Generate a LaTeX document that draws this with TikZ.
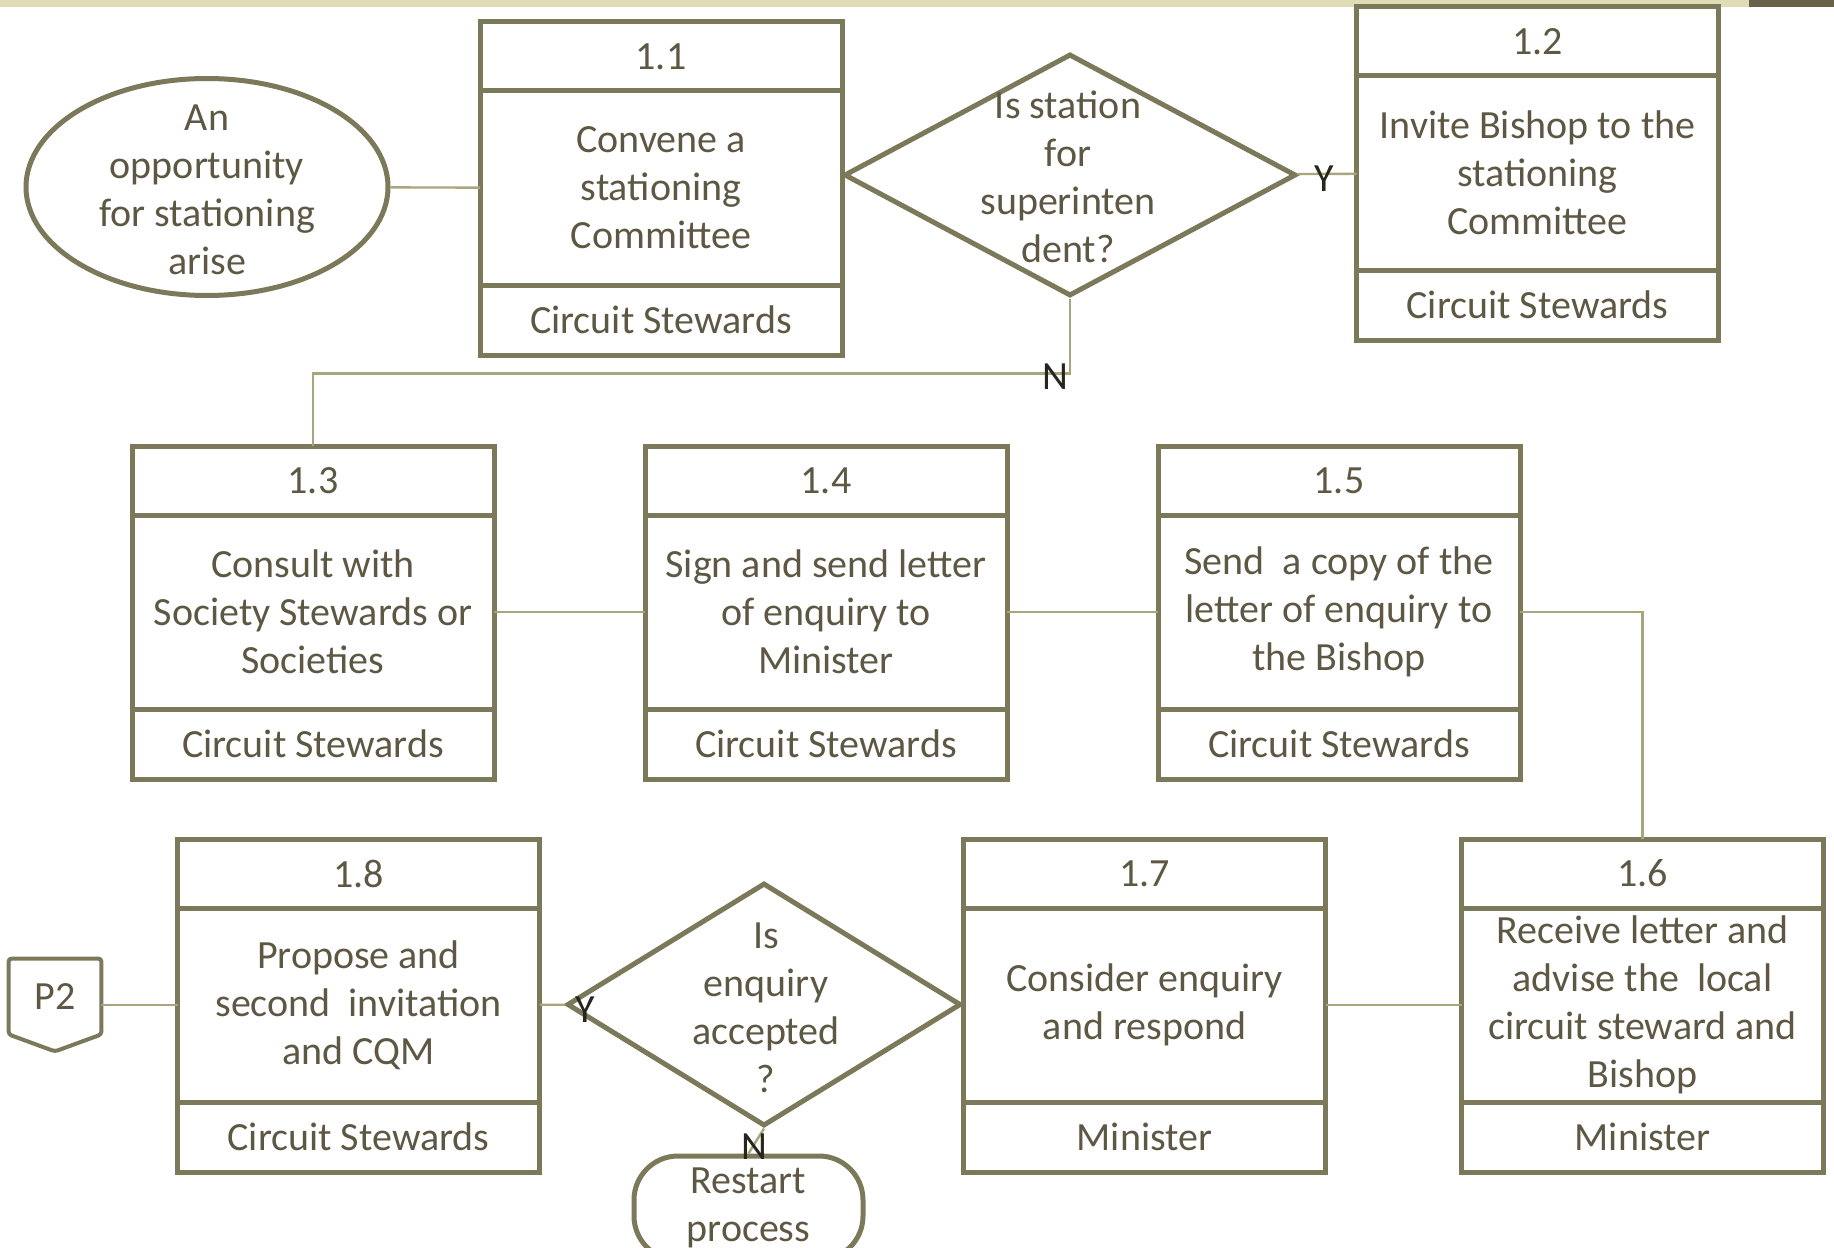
\documentclass[tikz,border=0pt]{standalone}
\usepackage{fontspec}
\setmainfont{Carlito}
\usetikzlibrary{arrows,positioning,shapes.geometric}
\definecolor{boxline}{RGB}{123,121,90}
\definecolor{boxtext}{RGB}{93,87,67}
\definecolor{connline}{RGB}{169,165,125}
\definecolor{yntext}{RGB}{38,38,30}
\definecolor{topbar}{RGB}{224,220,182}
\definecolor{topend}{RGB}{107,97,72}
\tikzset{
    %Define style for the parts of a process box
    boxpart/.style={
           rectangle,
           draw=boxline, line width=2.5pt,
           minimum width=181pt,
           outer sep=0pt,
           inner sep=2pt,
           text=boxtext,
           font=\fontsize{20}{24}\selectfont,
           align=center,
           },
    boxhead/.style={boxpart, minimum height=34.5pt},
    boxbody/.style={boxpart, minimum height=97pt},
    boxfoot/.style={boxpart, minimum height=35pt},
    %Define style for decisions and other shapes
    decision/.style={
           diamond,
           draw=boxline, line width=2.5pt,
           inner sep=0pt,
           },
    shapetext/.style={
           text=boxtext,
           font=\fontsize{20}{24}\selectfont,
           align=center,
           inner sep=0pt,
           },
    startend/.style={
           ellipse,
           draw=boxline, line width=2.5pt,
           minimum width=181pt,
           minimum height=108.5pt,
           },
    restart/.style={
           rectangle, rounded corners=22pt,
           draw=boxline, line width=2.5pt,
           minimum width=114.5pt,
           minimum height=52pt,
           inner sep=0pt,
           text=boxtext,
           font=\fontsize{20}{24}\selectfont,
           align=center,
           },
    pagebox/.style={
           rectangle,
           minimum width=46pt,
           minimum height=37.5pt,
           text=boxtext,
           font=\fontsize{20}{24}\selectfont,
           },
    % Define connector style
    conn/.style={
           draw=connline,
           line width=1.2pt,},
    yn/.style={
           text=yntext,
           font=\fontsize{20}{22}\selectfont,
           inner sep=0pt,}
}

\begin{document}
\begin{tikzpicture}[x=0.5pt,y=-0.5pt]
\useasboundingbox (0,0) rectangle (1834,1247);
\fill[topbar] (0,0) rectangle (1749,7);
\fill[topend] (1749,0) rectangle (1834,7);

% top row
\node[startend](opp) at (207,187){};
\node[shapetext](opptext) at (207,190){An\\opportunity\\for stationing\\arise};
\node[boxhead, anchor=north](h11) at (661,22){1.1};
\node[boxbody, below=0pt of h11](b11){Convene a\\stationing\\Committee};
\node[boxfoot, below=0pt of b11](f11){Circuit Stewards};
\node[decision, minimum width=226pt, minimum height=121pt](d1) at (1070,175){};
\node[shapetext](d1text) at (1068,177){Is station\\for\\superinten\\dent?};
\node[boxhead, anchor=north](h12) at (1537.5,7){1.2};
\node[boxbody, below=0pt of h12](b12){Invite Bishop to the\\stationing\\Committee};
\node[boxfoot, below=0pt of b12](f12){Circuit Stewards};

% middle row
\node[boxhead, anchor=north](h13) at (313,446){1.3};
\node[boxbody, below=0pt of h13](b13){Consult with\\Society Stewards or\\Societies};
\node[boxfoot, below=0pt of b13](f13){Circuit Stewards};
\node[boxhead, right=75.5pt of h13](h14){1.4};
\node[boxbody, below=0pt of h14](b14){Sign and send letter\\of enquiry to\\Minister};
\node[boxfoot, below=0pt of b14](f14){Circuit Stewards};
\node[boxhead, right=75.5pt of h14](h15){1.5};
\node[boxbody, below=0pt of h15](b15){Send\ \ a copy of the\\letter of enquiry to\\the Bishop};
\node[boxfoot, below=0pt of b15](f15){Circuit Stewards};

% bottom row
\node[pagebox](p2) at (55,996.5){P2};
\node[boxhead, anchor=north](h18) at (358.5,839){1.8};
\node[boxbody, below=0pt of h18](b18){Propose and\\second\ \ invitation\\and CQM};
\node[boxfoot, below=0pt of b18](f18){Circuit Stewards};
\node[decision, minimum width=197pt, minimum height=121.5pt](d2) at (764,1004.5){};
\node[shapetext](d2text) at (766,1008){Is\\enquiry\\accepted\\?};
\node[restart](rs) at (748.5,1208){Restart\\process};
\node[boxhead, anchor=north](h17) at (1144.5,839){1.7};
\node[boxbody, below=0pt of h17](b17){Consider enquiry\\and respond};
\node[boxfoot, below=0pt of b17](f17){Minister};
\node[boxhead, right=68pt of h17](h16){1.6};
\node[boxbody, below=0pt of h16](b16){Receive letter and\\advise the\ \ local\\circuit steward and\\Bishop};
\node[boxfoot, below=0pt of b16](f16){Minister};

% off page mark
\draw[draw=boxline, line width=2pt, rounded corners=1.5pt]
    (p2.north west) -- (p2.north east) -- (p2.south east)
    -- ([yshift=-8.5pt]p2.south) -- (p2.south west) -- cycle;

% connectors
\path[conn]
    (opp) edge (b11)
    (d1) edge (b12)
    (b13) edge (b14)
    (b14) edge (b15)
    (b16) edge (b17)
    (b18) edge (d2)
    (d2.south) edge (rs.north);
\draw[conn] (d1.south) -- ++(0,75) -| (h13.north);
\draw[conn] (b15.east) -| (h16.north);
\draw[conn] (p2.east |- b18) -- (b18);

% answers
\node[yn](y1) at (1324,179){Y};
\node[yn](n1) at (1055,377){N};
\node[yn](y2) at (585,1010){Y};
\node[yn](n2) at (754,1147){N};
\end{tikzpicture}
\end{document}
